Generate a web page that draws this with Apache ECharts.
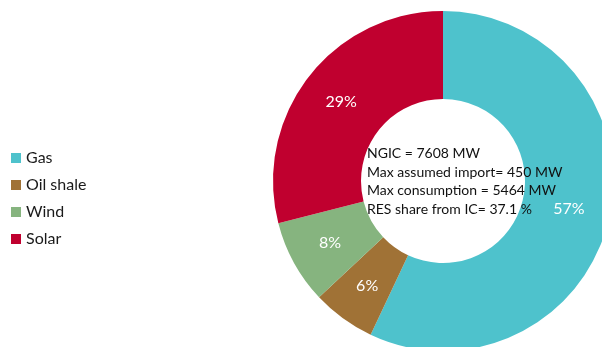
<!DOCTYPE html>
<html>
<head>
<meta charset="utf-8">
<script src="https://cdn.jsdelivr.net/npm/echarts@6/dist/echarts.min.js"></script>
<style>
  html, body { margin: 0; padding: 0; background: #fff; }
  #chart { width: 602px; height: 347px; }
</style>
</head>
<body>
<div id="chart"></div>
<script>
// Installed capacity mix (share of total, %)
const sources = ['Gas', 'Oil shale', 'Wind', 'Solar'];
const shares = [57, 6, 8, 29];
const colors = ['#4EC2CC', '#A07236', '#86B47F', '#C0002F'];
const centerNotes = [
  'NGIC = 7608 MW',
  'Max assumed import= 450 MW',
  'Max consumption = 5464 MW',
  'RES share from IC= 37.1 %'
];

const chart = echarts.init(document.getElementById('chart'));
const font = 'Lato, "Open Sans", sans-serif';

chart.setOption({
  animation: false,
  color: colors,
  legend: {
    orient: 'vertical',
    left: 6,
    top: 145,
    itemWidth: 10,
    itemHeight: 10,
    itemGap: 11,
    icon: 'rect',
    textStyle: { fontFamily: font, fontSize: 16, color: '#1a1a1a' },
    data: sources
  },
  series: [{
    type: 'pie',
    center: [443, 181],
    radius: [82, 170],
    startAngle: 90,
    clockwise: true,
    avoidLabelOverlap: false,
    label: {
      show: true,
      position: 'inside',
      formatter: '{c}%',
      color: '#ffffff',
      fontFamily: font,
      fontSize: 16
    },
    labelLine: { show: false },
    itemStyle: { borderWidth: 0 },
    emphasis: { disabled: true },
    data: sources.map((name, i) => ({ name, value: shares[i] }))
  }],
  graphic: [{
    type: 'text',
    z: 100,
    left: 367,
    top: 144,
    style: {
      text: centerNotes.join('\n'),
      font: '14px ' + font,
      lineHeight: 18.7,
      fill: '#111111',
      textAlign: 'left'
    }
  }]
});
</script>
</body>
</html>
